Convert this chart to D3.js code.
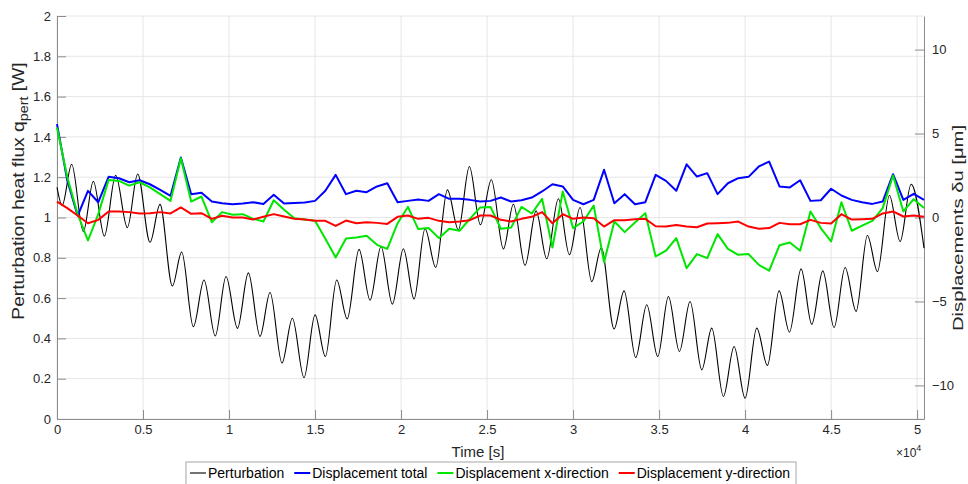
<!DOCTYPE html>
<html>
<head>
<meta charset="utf-8">
<script src="https://cdn.jsdelivr.net/npm/d3@7"></script>
<style>
  body { margin: 0; background: #fff; }
  svg { font-family: "Liberation Sans", Arial, Helvetica, sans-serif; }
  .grid line { stroke: #e6e6e6; stroke-width: 1; }
  .axis path, .axis line { stroke: #8c8c8c; }
  .axis text { fill: #262626; font-size: 13px; }
</style>
</head>
<body>
<svg id="chart" width="968" height="484"></svg>
<script>
// displacement samples every 600 s (0 .. 50400 s), values in um
var dispTimes = d3.range(0, 50401, 600);
var dispTotal = [5.56, 2.2, 0.1, 1.59, 0.91, 2.42, 2.34, 2.1, 2.22, 1.98, 1.65, 1.29, 3.57, 1.39, 1.47,
  0.95, 0.85, 0.79, 0.83, 0.91, 0.81, 1.35, 0.83, 0.87, 0.89, 0.99, 1.59, 2.54, 1.39,
  1.59, 1.51, 1.85, 2.04, 0.91, 0.99, 1.07, 0.99, 1.39, 1.11, 1.11, 1.05, 0.95, 0.99,
  1.19, 0.95, 1.03, 1.19, 1.55, 1.98, 1.85, 1.05, 0.79, 1.05, 2.84, 0.85, 1.39, 0.79,
  0.91, 2.54, 2.18, 1.59, 3.17, 2.44, 2.64, 1.39, 2.04, 2.34, 2.42, 3.04, 3.33, 1.85,
  1.79, 2.22, 0.99, 1.03, 1.71, 1.31, 1.05, 0.91, 0.81, 0.95, 2.58, 1.05, 1.41, 1.05];
var dispX = [5.36, 2.4, 0.2, -1.37, 0.2, 2.24, 2.18, 1.9, 2.1, 1.79, 1.39, 0.99, 3.53, 0.95, 1.25,
  -0.28, 0.32, 0.16, 0.2, -0.08, -0.24, 1.03, 0.46, -0.04, -0.12, -0.2, -1.27, -2.38, -1.25,
  -1.19, -1.09, -1.63, -1.87, -0.34, 0.63, -0.69, -0.63, -1.23, -0.67, -0.79, -0.08, 0.6, 0.63,
  -0.67, -0.6, 0.63, 0.24, 1.11, -1.79, 1.55, -0.63, -0.24, 0.71, -2.66, -0.24, -0.87, -0.3,
  0.26, -2.32, -1.98, -1.23, -3.02, -2.18, -2.42, -0.99, -1.87, -2.22, -2.18, -2.82, -3.17, -1.65,
  -1.49, -1.98, 0.36, -0.63, -1.43, 0.91, -0.79, -0.48, -0.2, 0.56, 2.5, 0.36, 1.09, 0.56];
var dispY = [0.95, 0.56, 0.12, -0.34, -0.14, 0.36, 0.36, 0.32, 0.24, 0.26, 0.32, 0.24, 0.6, 0.22, 0.26,
  -0.08, 0.1, 0, 0, -0.12, 0.04, 0.2, 0.06, -0.08, -0.12, -0.2, -0.2, -0.5, -0.18,
  -0.34, -0.28, -0.32, -0.38, 0.04, 0.12, -0.08, -0.02, -0.2, -0.28, -0.24, -0.16, 0.12, 0.12,
  -0.14, -0.24, -0.08, 0.04, 0.32, -0.34, 0.2, -0.08, 0, -0.04, -0.54, -0.16, -0.16, -0.1,
  -0.08, -0.52, -0.54, -0.44, -0.54, -0.58, -0.36, -0.34, -0.32, -0.24, -0.54, -0.67, -0.63, -0.32,
  -0.4, -0.4, -0.14, -0.32, -0.36, 0.2, -0.12, -0.1, -0.08, 0.24, 0.36, 0.06, 0.12, 0.04];

// perturbation heat flux: read at start, turning points and end
var pertTimes = [0, 300, 853, 1531, 2112, 2752, 3411, 4090, 4690, 5407, 5988, 6705, 7248, 7926,
  8547, 9200, 9826, 10490, 11124, 11802, 12384, 13080, 13682, 14360, 15000, 15600, 16260, 16870,
  17558, 18198, 18837, 19496, 20136, 20756, 21395, 22016, 22694, 23333, 23973, 24612, 25250,
  25950, 26531, 27209, 27849, 28469, 29147, 29787, 30407, 31085, 31640, 32384, 32965, 33643,
  34283, 34922, 35543, 36182, 36802, 37481, 38062, 38740, 39360, 40000, 40678, 41298, 41977,
  42578, 43256, 43876, 44516, 45174, 45814, 46453, 47111, 47693, 48391, 49012, 49651, 50400];
var pertFlux = [1.15, 1.06, 1.264, 0.93, 1.18, 0.908, 1.21, 0.95, 1.216, 0.877, 1.065, 0.66, 0.829, 0.458,
  0.69, 0.412, 0.707, 0.45, 0.725, 0.41, 0.628, 0.278, 0.5, 0.205, 0.517, 0.31, 0.69, 0.497,
  0.842, 0.59, 0.856, 0.57, 0.845, 0.596, 0.944, 0.752, 1.137, 0.939, 1.253, 0.964, 1.187,
  0.844, 1.066, 0.762, 1.033, 0.795, 1.093, 0.815, 1.05, 0.682, 0.85, 0.447, 0.636, 0.305,
  0.567, 0.31, 0.608, 0.335, 0.583, 0.244, 0.451, 0.112, 0.36, 0.103, 0.451, 0.266, 0.636,
  0.431, 0.745, 0.47, 0.735, 0.454, 0.752, 0.534, 0.911, 0.732, 1.109, 0.881, 1.165, 0.848];

var leftTicks = [0, 0.2, 0.4, 0.6, 0.8, 1, 1.2, 1.4, 1.6, 1.8, 2];
var rightTicks = [-10, -5, 0, 5, 10];
var xTicks = [0, 5000, 10000, 15000, 20000, 25000, 30000, 35000, 40000, 45000, 50000];
var xTickLabels = ["0", "0.5", "1", "1.5", "2", "2.5", "3", "3.5", "4", "4.5", "5"];

var seriesNames = ["Perturbation", "Displacement total", "Displacement x-direction", "Displacement y-direction"];
var seriesColors = ["#000000", "#0000ff", "#00e600", "#ff0000"];

var plotL = 57, plotR = 924, plotT = 16, plotB = 419;
var svg = d3.select("#chart");

var x = d3.scaleLinear().domain([0, 50400]).range([plotL, plotR]);
var yL = d3.scaleLinear().domain([0, 2]).range([plotB, plotT]);
var yR = d3.scaleLinear().domain([-12, 12]).range([plotB, plotT]);

// grid
var grid = svg.append("g").attr("class", "grid");
grid.selectAll(".h").data(leftTicks).enter().append("line")
  .attr("x1", plotL).attr("x2", plotR)
  .attr("y1", function (d) { return yL(d); }).attr("y2", function (d) { return yL(d); });
grid.selectAll(".v").data(xTicks).enter().append("line")
  .attr("y1", plotT).attr("y2", plotB)
  .attr("x1", function (d) { return x(d); }).attr("x2", function (d) { return x(d); });

// axes
var xAxis = d3.axisBottom(x).tickValues(xTicks)
  .tickFormat(function (d, i) { return xTickLabels[i]; })
  .tickSizeInner(-9).tickSizeOuter(0).tickPadding(6);
svg.append("g").attr("class", "axis").attr("transform", "translate(0," + plotB + ")").call(xAxis);

var yAxisL = d3.axisLeft(yL).tickValues(leftTicks).tickFormat(d3.format("~g"))
  .tickSizeInner(-9).tickSizeOuter(0).tickPadding(6);
svg.append("g").attr("class", "axis").attr("transform", "translate(" + plotL + ",0)").call(yAxisL);

var yAxisR = d3.axisRight(yR).tickValues(rightTicks).tickFormat(d3.format("d"))
  .tickSizeInner(-9).tickSizeOuter(0).tickPadding(8);
svg.append("g").attr("class", "axis").attr("transform", "translate(" + plotR + ",0)").call(yAxisR);

// lines
var pertLine = d3.line()
  .x(function (d, i) { return x(pertTimes[i]); })
  .y(function (d) { return yL(d); })
  .curve(d3.curveMonotoneX);
svg.append("path").datum(pertFlux)
  .attr("d", pertLine).attr("fill", "none")
  .attr("stroke", seriesColors[0]).attr("stroke-width", 1.1);

var dispLine = d3.line()
  .x(function (d, i) { return x(dispTimes[i]); })
  .y(function (d) { return yR(d); });
[dispTotal, dispX, dispY].forEach(function (s, k) {
  svg.append("path").datum(s)
    .attr("d", dispLine).attr("fill", "none")
    .attr("stroke", seriesColors[k + 1]).attr("stroke-width", 2)
    .attr("stroke-linejoin", "round");
});

// labels
var ylab = svg.append("text")
  .attr("transform", "translate(24,191) rotate(-90) scale(1.2,1)")
  .attr("text-anchor", "middle").attr("font-size", 16).attr("fill", "#262626");
ylab.append("tspan").text("Perturbation heat flux q");
ylab.append("tspan").attr("font-size", 12).attr("dy", 4).text("pert");
ylab.append("tspan").attr("dy", -4).text(" [W]");

svg.append("text")
  .attr("transform", "translate(963,228) rotate(-90) scale(1.35,1)")
  .attr("text-anchor", "middle").attr("font-size", 15).attr("fill", "#262626")
  .text("Displacements \u03b4u [\u03bcm]");

svg.append("text")
  .attr("x", 478).attr("y", 457)
  .attr("text-anchor", "middle").attr("font-size", 15).attr("fill", "#262626")
  .text("Time [s]");

var mult = svg.append("text").attr("x", 896).attr("y", 457)
  .attr("font-size", 12).attr("fill", "#262626");
mult.append("tspan").text("\u00d710");
mult.append("tspan").attr("font-size", 9).attr("dy", -6).text("4");

// legend
var legend = svg.append("g");
var box = legend.append("rect")
  .attr("y", 462).attr("height", 40)
  .attr("fill", "#fff").attr("stroke", "#a6a6a6");
var cx = 0;
var items = legend.selectAll(".item").data(seriesNames).enter().append("g");
items.each(function (d, i) {
  var g = d3.select(this);
  g.append("line").attr("x1", cx + 4).attr("x2", cx + 20)
    .attr("y1", 473).attr("y2", 473)
    .attr("stroke", seriesColors[i]).attr("stroke-width", i === 0 ? 1.1 : 2);
  var t = g.append("text").attr("x", cx + 22).attr("y", 478)
    .attr("font-size", 14).attr("fill", "#000").text(d);
  cx += 22 + t.node().getComputedTextLength() + 6;
});
var lx = 491 - cx / 2;
items.attr("transform", "translate(" + lx + ",0)");
box.attr("x", lx).attr("width", cx);
</script>
</body>
</html>
